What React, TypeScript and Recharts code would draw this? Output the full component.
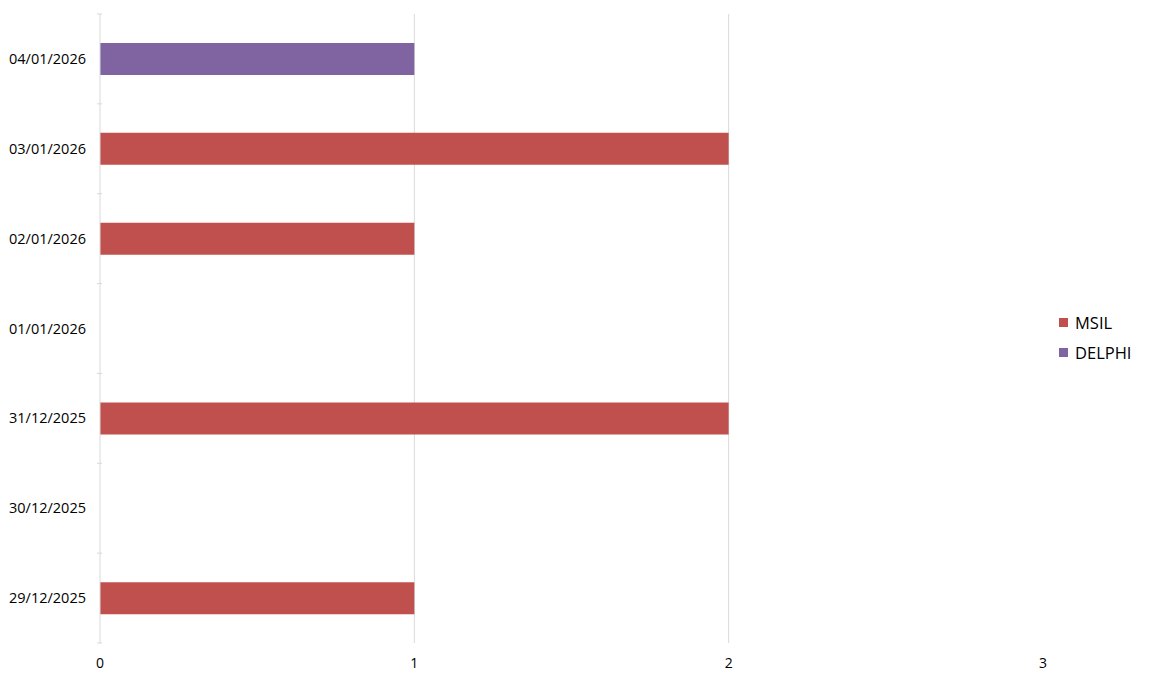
import React from "react";
import { BarChart, Bar, XAxis, YAxis, Legend, CartesianGrid } from "recharts";

const DATES = [
  "29/12/2025",
  "30/12/2025",
  "31/12/2025",
  "01/01/2026",
  "02/01/2026",
  "03/01/2026",
  "04/01/2026",
];
const MSIL = [1, 0, 2, 0, 1, 2, 0];
const DELPHI = [0, 0, 0, 0, 0, 0, 1];
const X_TICKS = [0, 1, 2, 3];
const X_MAX = 3;
const GRID_AT = [1, 2];

const SERIES = [
  { key: "MSIL", color: "#C0504D" },
  { key: "DELPHI", color: "#8064A2" },
];

const data = DATES.map((d, i) => ({ date: d, MSIL: MSIL[i], DELPHI: DELPHI[i] }));

const FONT = "'Open Sans', 'Noto Sans', sans-serif";
const PLOT_TOP = 14;
const PLOT_H = 629;
const BAND = PLOT_H / DATES.length;
const LEGEND_W = 100;

function DateTick({ x, y, payload, index }: any) {
  return (
    <g>
      <line x1={x + 5} x2={x + 10} y1={y - BAND / 2} y2={y - BAND / 2} stroke="#d9d9d9" />
      {index === 0 && (
        <line x1={x + 5} x2={x + 10} y1={y + BAND / 2} y2={y + BAND / 2} stroke="#d9d9d9" />
      )}
      <text x={x - 6} y={y} dy={5} textAnchor="end" fontSize={14.5} fill="#000" fontFamily={FONT}>
        {payload.value}
      </text>
    </g>
  );
}

function LegendBox() {
  return (
    <div style={{ fontFamily: FONT, fontSize: 16.5, color: "#000" }}>
      {SERIES.map((s) => (
        <div key={s.key} style={{ display: "flex", alignItems: "center", height: 30 }}>
          <span style={{ width: 9, height: 9, background: s.color, marginRight: 7 }} />
          {s.key}
        </div>
      ))}
    </div>
  );
}

export default function App() {
  return (
    <div style={{ position: "absolute", left: 0, top: 0, background: "#fff" }}>
      <BarChart
        width={1160}
        height={683}
        data={data}
        layout="vertical"
        barSize={32}
        margin={{ top: PLOT_TOP, right: 117 - LEGEND_W, left: 0, bottom: 683 - PLOT_TOP - PLOT_H - 30 }}
      >
        <CartesianGrid
          horizontal={false}
          stroke="#d9d9d9"
          verticalCoordinatesGenerator={({ offset }: any) =>
            GRID_AT.map((v) => offset.left + (v / X_MAX) * offset.width)
          }
        />
        <XAxis
          type="number"
          domain={[0, X_MAX]}
          ticks={X_TICKS}
          axisLine={false}
          tickLine={false}
          tickMargin={9}
          height={30}
          tick={{ fontSize: 14, fill: "#000", fontFamily: FONT }}
        />
        <YAxis
          type="category"
          dataKey="date"
          reversed
          width={100}
          axisLine={{ stroke: "#d9d9d9" }}
          tickLine={false}
          tick={<DateTick />}
          interval={0}
        />
        {SERIES.map((s) => (
          <Bar key={s.key} dataKey={s.key} stackId="a" fill={s.color} isAnimationActive={false} />
        ))}
        <Legend
          layout="vertical"
          align="right"
          verticalAlign="middle"
          content={<LegendBox />}
          wrapperStyle={{ position: "absolute", left: 1059, top: 307, width: LEGEND_W }}
        />
      </BarChart>
    </div>
  );
}
